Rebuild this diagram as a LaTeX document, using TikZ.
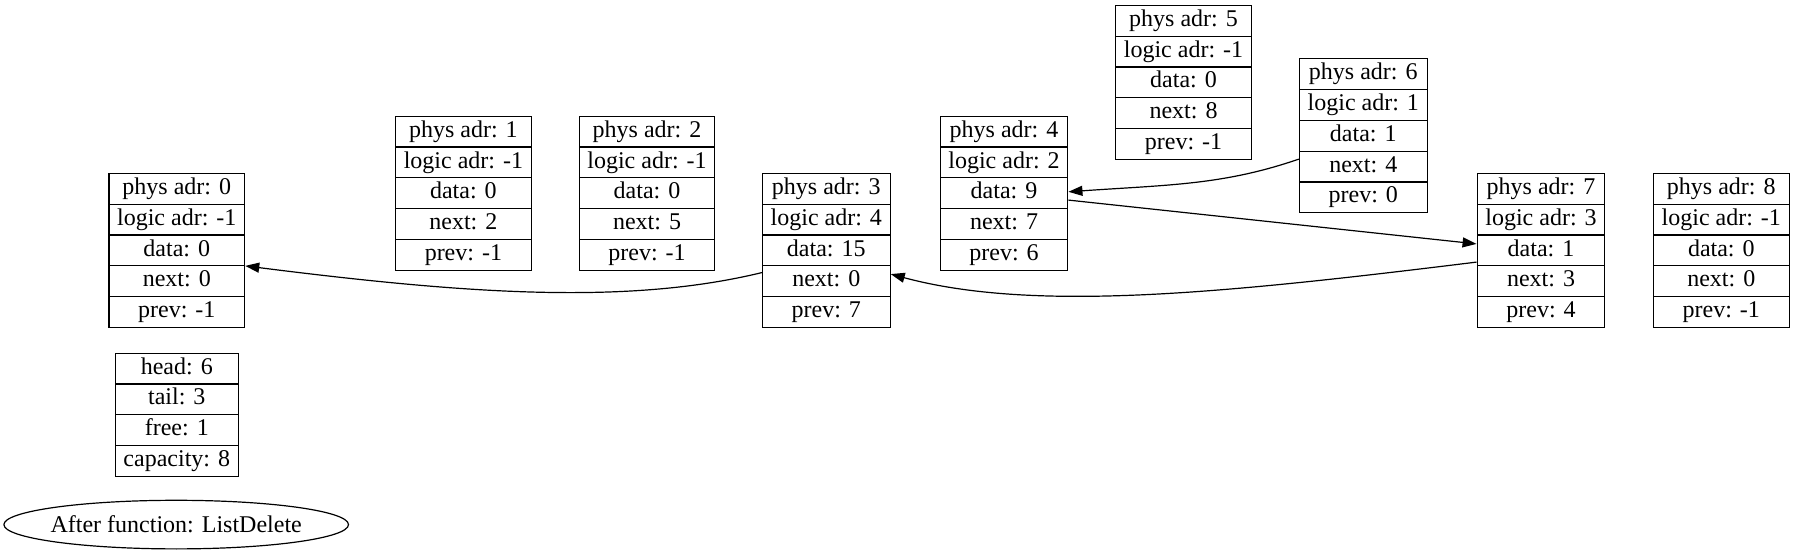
\documentclass[tikz,border=0pt]{standalone}
\usepackage{fontspec}
\setmainfont{Liberation Serif}
\usepackage{tikz}
\usetikzlibrary{shapes.multipart, shapes.geometric, arrows.meta}
\newcommand{\rowstrut}{\rule[-4.6pt]{0pt}{14.8pt}}

\begin{document}
\begin{tikzpicture}[
    x=0.5pt, y=-0.5pt,
    cell/.style={rectangle split, rectangle split parts=5, draw=black, line width=0.6pt,
                 inner xsep=4.1pt, inner ysep=0pt, font=\fontsize{12}{14}\selectfont},
    info/.style={cell, rectangle split parts=4},
    caption/.style={ellipse, draw=black, line width=0.6pt, minimum width=172.3pt,
                    minimum height=24.3pt, inner xsep=-3pt, inner ysep=0pt, font=\fontsize{12}{14}\selectfont},
    arrow/.style={-{Triangle[length=7pt, width=5pt]}, line width=0.6pt, black},
]
\useasboundingbox (0,0) rectangle (1794,555);

% List elements
\node[cell] (n0) at (176.8,250.5) {\rowstrut phys adr: 0\nodepart{two}\rowstrut logic adr: -1\nodepart{three}\rowstrut data: 0\nodepart{four}\rowstrut next: 0\nodepart{five}\rowstrut prev: -1};
\node[cell] (n1) at (463.4,193.3) {\rowstrut phys adr: 1\nodepart{two}\rowstrut logic adr: -1\nodepart{three}\rowstrut data: 0\nodepart{four}\rowstrut next: 2\nodepart{five}\rowstrut prev: -1};
\node[cell] (n2) at (647,193.3) {\rowstrut phys adr: 2\nodepart{two}\rowstrut logic adr: -1\nodepart{three}\rowstrut data: 0\nodepart{four}\rowstrut next: 5\nodepart{five}\rowstrut prev: -1};
\node[cell] (n3) at (826.3,250.5) {\rowstrut phys adr: 3\nodepart{two}\rowstrut logic adr: 4\nodepart{three}\rowstrut data: 15\nodepart{four}\rowstrut next: 0\nodepart{five}\rowstrut prev: 7};
\node[cell] (n4) at (1004,193.3) {\rowstrut phys adr: 4\nodepart{two}\rowstrut logic adr: 2\nodepart{three}\rowstrut data: 9\nodepart{four}\rowstrut next: 7\nodepart{five}\rowstrut prev: 6};
\node[cell] (n5) at (1183.5,82.4) {\rowstrut phys adr: 5\nodepart{two}\rowstrut logic adr: -1\nodepart{three}\rowstrut data: 0\nodepart{four}\rowstrut next: 8\nodepart{five}\rowstrut prev: -1};
\node[cell] (n6) at (1363.3,135.8) {\rowstrut phys adr: 6\nodepart{two}\rowstrut logic adr: 1\nodepart{three}\rowstrut data: 1\nodepart{four}\rowstrut next: 4\nodepart{five}\rowstrut prev: 0};
\node[cell] (n7) at (1541,250.5) {\rowstrut phys adr: 7\nodepart{two}\rowstrut logic adr: 3\nodepart{three}\rowstrut data: 1\nodepart{four}\rowstrut next: 3\nodepart{five}\rowstrut prev: 4};
\node[cell] (n8) at (1721.3,250.5) {\rowstrut phys adr: 8\nodepart{two}\rowstrut logic adr: -1\nodepart{three}\rowstrut data: 0\nodepart{four}\rowstrut next: 0\nodepart{five}\rowstrut prev: -1};

% List header and caption
\node[info] (head) at (176.8,414.8) {\rowstrut head: 6\nodepart{two}\rowstrut tail: 3\nodepart{three}\rowstrut free: 1\nodepart{four}\rowstrut capacity: 8};
\node[caption] (title) at (176.2,524.6) {After function: ListDelete};

% Links
\draw[arrow] ([yshift=-3.35pt]n3.three split west) .. controls +(-136,33) and +(218,27.5) .. (n0.three split east);
\draw[arrow] ([yshift=1.9pt]n7.three split west) .. controls +(-248,30.5) and +(145,39) .. ([yshift=-4.1pt]n3.three split east);
\draw[arrow] ([yshift=-3.95pt]n6.three split west) .. controls +(-75.7,26.1) and +(99.7,-7) .. ([yshift=8.45pt]n4.three split east);
\draw[arrow] ([yshift=4.3pt]n4.three split east) -- ([yshift=-4.4pt]n7.two split west);
\end{tikzpicture}
\end{document}
